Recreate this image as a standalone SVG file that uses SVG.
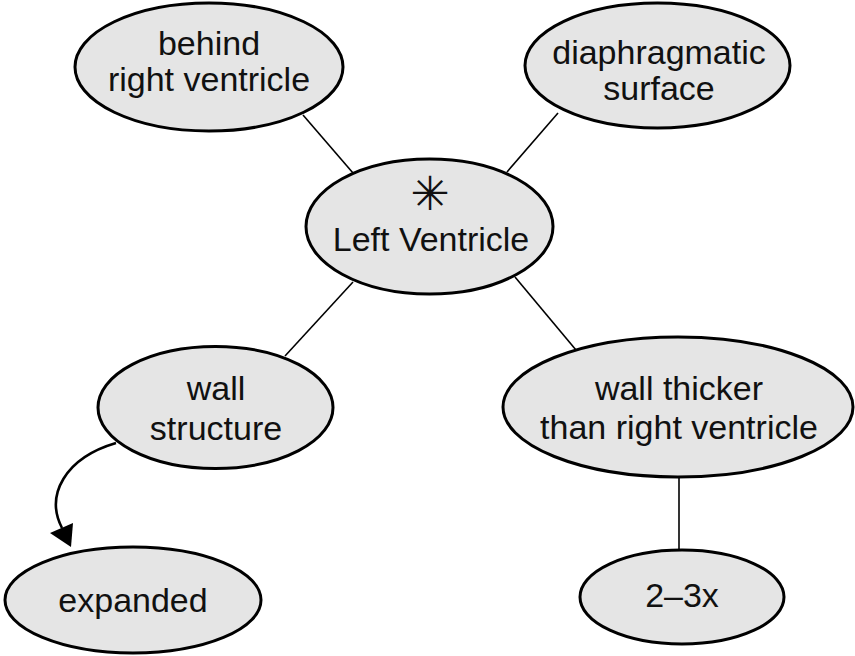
<svg xmlns="http://www.w3.org/2000/svg" width="855" height="656" viewBox="0 0 855 656">
<style>
.node ellipse{fill:#e5e5e5;stroke:#000;stroke-width:3}
.lbl{font-family:"Liberation Sans",Arial,Helvetica,sans-serif;font-size:34px;fill:#111;text-anchor:middle}
.sym{font-family:"DejaVu Sans",sans-serif;font-size:47px;fill:#111;text-anchor:middle}
.edge{stroke:#000;stroke-width:1.6;fill:none}
.curve{stroke:#000;stroke-width:2.6;fill:none}
</style>
<rect width="855" height="656" fill="#fff"/>
<g id="connectors">
<line class="edge" x1="303" y1="115" x2="353" y2="173"/>
<line class="edge" x1="558" y1="113" x2="507" y2="172"/>
<line class="edge" x1="353" y1="282" x2="285" y2="356"/>
<line class="edge" x1="515" y1="277" x2="576" y2="350"/>
<line class="edge" x1="679" y1="477" x2="679" y2="550"/>
<path class="curve" d="M116,443 C65,458 45,495 62,528"/>
<polygon points="50,533 73,523 71,547" fill="#000"/>
</g>
<g id="node-behind" class="node">
<ellipse cx="209" cy="67" rx="134" ry="64"/>
<text class="lbl" x="209" y="55">behind</text>
<text class="lbl" x="209" y="91">right ventricle</text>
</g>
<g id="node-diaphragmatic" class="node">
<ellipse cx="657.5" cy="65.5" rx="132.5" ry="62.5"/>
<text class="lbl" x="659" y="64">diaphragmatic</text>
<text class="lbl" x="659" y="100">surface</text>
</g>
<g id="node-lv" class="node">
<ellipse cx="429.5" cy="226.5" rx="123.5" ry="67.5"/>
<text class="sym" x="430" y="210">✳</text>
<text class="lbl" x="431" y="251">Left Ventricle</text>
</g>
<g id="node-wall-structure" class="node">
<ellipse cx="215.5" cy="407.5" rx="117.5" ry="61"/>
<text class="lbl" x="216" y="400">wall</text>
<text class="lbl" x="216" y="440">structure</text>
</g>
<g id="node-wall-thicker" class="node">
<ellipse cx="678" cy="407" rx="175" ry="70"/>
<text class="lbl" x="679" y="400">wall thicker</text>
<text class="lbl" x="679" y="439">than right ventricle</text>
</g>
<g id="node-expanded" class="node">
<ellipse cx="133" cy="600" rx="128" ry="53"/>
<text class="lbl" x="133" y="612">expanded</text>
</g>
<g id="node-23x" class="node">
<ellipse cx="682" cy="597" rx="102" ry="47"/>
<text class="lbl" x="682" y="607">2–3x</text>
</g>
</svg>
